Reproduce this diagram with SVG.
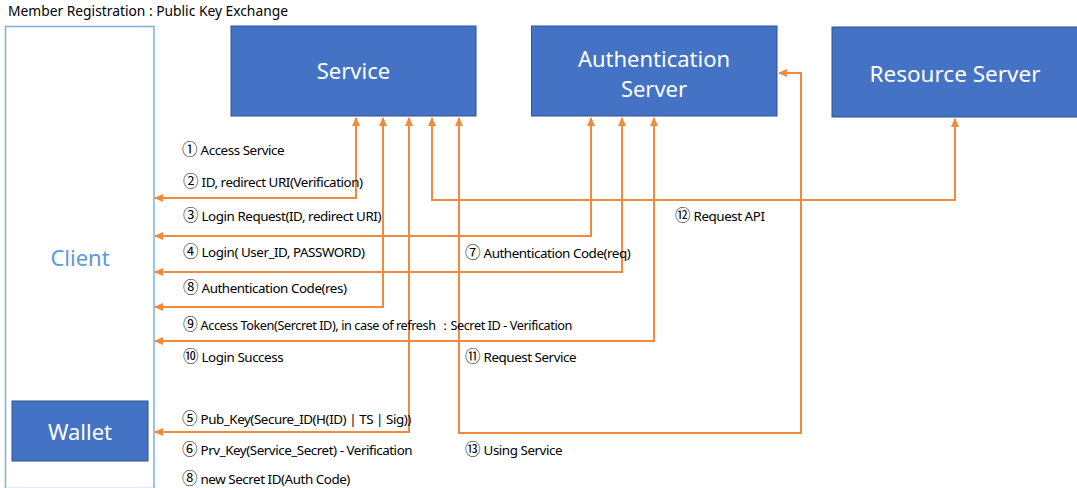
<svg xmlns="http://www.w3.org/2000/svg" width="1077" height="488" viewBox="0 0 1077 488">
<style>
.box{fill:#4472C4;stroke:#2F528F;stroke-width:1}
.title{font-family:"Noto Sans","Open Sans",sans-serif;font-size:22px;fill:#fff;text-anchor:middle}
.lbl{font-family:"Noto Sans","Liberation Sans",sans-serif;font-size:13.4px;fill:#000;letter-spacing:-0.45px}
.n{font-family:"Noto Sans CJK KR","Noto Sans",sans-serif;font-size:15.5px;letter-spacing:0}
.con{fill:none;stroke:#F08A3E;stroke-width:2;marker-start:url(#ah);marker-end:url(#ah)}
</style>
<defs>
<marker id="ah" markerWidth="9" markerHeight="8" refX="8" refY="4" orient="auto-start-reverse" markerUnits="userSpaceOnUse">
<path d="M0,0 L9,4 L0,8 z" fill="#F08A3E"/>
</marker>
</defs>
<rect width="1077" height="488" fill="#fff"/>
<text x="8" y="16" font-family="Noto Sans, sans-serif" font-size="13.8" fill="#000">Member Registration : Public Key Exchange</text>

<g id="client">
<rect x="5.5" y="26.5" width="148.5" height="462" fill="#fff" stroke="#7EB0E0" stroke-width="1.5"/>
<text x="80" y="266" class="title" style="fill:#5B9BD5">Client</text>
</g>
<g id="wallet">
<rect x="12" y="401" width="136" height="60" class="box"/>
<text x="80" y="440" class="title">Wallet</text>
</g>
<g id="service">
<rect x="231" y="26" width="245" height="90" class="box"/>
<text x="353.5" y="79" class="title">Service</text>
</g>
<g id="auth-server">
<rect x="531.5" y="26" width="245.5" height="90" class="box"/>
<text x="654" y="67" class="title">Authentication</text>
<text x="654" y="97" class="title">Server</text>
</g>
<g id="resource-server">
<rect x="832" y="27" width="250" height="90" class="box"/>
<text x="955" y="82" class="title" style="font-size:22.5px">Resource Server</text>
</g>

<g id="connectors">
<path class="con" d="M356,118 V198 H155"/>
<path class="con" d="M383,118 V307 H155"/>
<path class="con" d="M409,118 V432 H155"/>
<path class="con" d="M432,118 V200 H955 V119"/>
<path class="con" d="M459,118 V433 H801 V73 H779"/>
<path class="con" d="M591,118 V236 H155"/>
<path class="con" d="M622,118 V272 H155"/>
<path class="con" d="M654,118 V341 H155"/>
</g>

<g id="labels">
<text class="lbl" x="182" y="155"><tspan class="n">①</tspan> Access Service</text>
<text class="lbl" x="183" y="187"><tspan class="n">②</tspan> ID, redirect URI(Verification)</text>
<text class="lbl" x="183" y="221"><tspan class="n">③</tspan> Login Request(ID, redirect URI)</text>
<text class="lbl" x="183" y="257"><tspan class="n">④</tspan> Login( User_ID, PASSWORD)</text>
<text class="lbl" x="183" y="293"><tspan class="n">⑧</tspan> Authentication Code(res)</text>
<text class="lbl" x="183" y="330" textLength="389" lengthAdjust="spacingAndGlyphs"><tspan class="n">⑨</tspan> Access Token(Sercret ID), in case of refresh ：Secret ID - Verification</text>
<text class="lbl" x="183" y="362"><tspan class="n">⑩</tspan> Login Success</text>
<text class="lbl" x="182" y="424"><tspan class="n">⑤</tspan> Pub_Key(Secure_ID(H(ID) | TS | Sig))</text>
<text class="lbl" x="182" y="455"><tspan class="n">⑥</tspan> Prv_Key(Service_Secret) - Verification</text>
<text class="lbl" x="182" y="484"><tspan class="n">⑧</tspan> new Secret ID(Auth Code)</text>
<text class="lbl" x="465" y="258"><tspan class="n">⑦</tspan> Authentication Code(req)</text>
<text class="lbl" x="465" y="362"><tspan class="n">⑪</tspan> Request Service</text>
<text class="lbl" x="675" y="221"><tspan class="n">⑫</tspan> Request API</text>
<text class="lbl" x="465" y="455"><tspan class="n">⑬</tspan> Using Service</text>
</g>
</svg>
